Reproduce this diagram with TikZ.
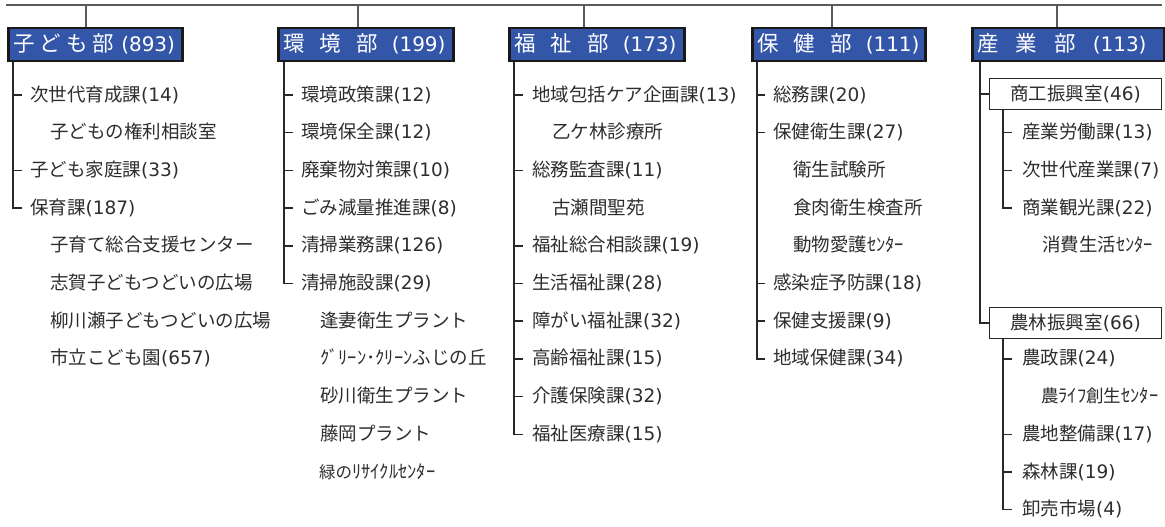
\documentclass[tikz,border=0pt]{standalone}
\usepackage{fontspec}
\setmainfont{Noto Sans CJK JP}
\newfontfamily\latf{DejaVu Sans}
\newcommand\pnum[1]{{\latf(#1)}}
\definecolor{hdrblue}{RGB}{52,86,168}
\definecolor{hdrline}{RGB}{25,25,25}
\definecolor{txt}{RGB}{45,45,45}
\definecolor{lnc}{RGB}{40,40,40}
\definecolor{topc}{RGB}{90,90,90}
\def\ry#1{95+37.7*#1}
\tikzset{
  item/.style={anchor=west, inner sep=0pt, font=\fontsize{18.5}{20}\selectfont, text=txt, text height=14.5pt, text depth=2.5pt},
  hdr/.style={draw=hdrline, line width=2.5pt, fill=hdrblue, text=white, anchor=north west, minimum height=33pt, inner xsep=5pt, inner ysep=0pt, font=\fontsize{21.5}{24}\selectfont, align=left, text height=17pt, text depth=4pt},
  conn/.style={draw=lnc, line width=1.5pt},
  topline/.style={draw=topc, line width=2pt},
  office/.style={draw=lnc, line width=1.3pt, fill=white, minimum width=172pt, minimum height=31pt, anchor=north west, inner sep=0pt, font=\fontsize{18.5}{20}\selectfont, text=txt},
}
\begin{document}
\begin{tikzpicture}[x=1pt,y=-1pt]
\useasboundingbox (0,0) rectangle (1165,527);
% headers
\node[hdr, minimum width=174pt, text width=164pt] (h1) at (7,27) {子\hspace{5pt}ど\hspace{5pt}も\hspace{5pt}部\hspace{7pt}{\fontsize{20}{24}\selectfont\pnum{893}}};
\node[hdr, minimum width=175pt, text width=165pt] (h2) at (277,27) {環\hspace{15pt}境\hspace{15pt}部\hspace{14pt}{\fontsize{20}{24}\selectfont\pnum{199}}};
\node[hdr, minimum width=175pt, text width=165pt] (h3) at (508,27) {福\hspace{15pt}祉\hspace{15pt}部\hspace{14pt}{\fontsize{20}{24}\selectfont\pnum{173}}};
\node[hdr, minimum width=173pt, text width=163pt] (h4) at (751,27) {保\hspace{15pt}健\hspace{15pt}部\hspace{14pt}{\fontsize{20}{24}\selectfont\pnum{111}}};
\node[hdr, minimum width=192pt, text width=182pt] (h5) at (971,27) {産\hspace{17pt}業\hspace{17pt}部\hspace{17pt}{\fontsize{20}{24}\selectfont\pnum{113}}};
% top line
\coordinate (tl) at (6,5.5);
\coordinate (tr) at (1162,5.5);
\draw[topline] (tl) -- (tr);
\coordinate (t1) at (86,5.5);
\coordinate (t2) at (358,5.5);
\coordinate (t3) at (584,5.5);
\coordinate (t4) at (832,5.5);
\coordinate (t5) at (1057,5.5);
\draw[topline] (t1) -- (t1 |- h1.north);
\draw[topline] (t2) -- (t2 |- h2.north);
\draw[topline] (t3) -- (t3 |- h3.north);
\draw[topline] (t4) -- (t4 |- h4.north);
\draw[topline] (t5) -- (t5 |- h5.north);
% column 1
\node[item] (c1a) at (30,{\ry{0}}) {次世代育成課\pnum{14}};
\node[item] (c1b) at (50,{\ry{1}}) {子どもの権利相談室};
\node[item] (c1c) at (30,{\ry{2}}) {子ども家庭課\pnum{33}};
\node[item] (c1d) at (30,{\ry{3}}) {保育課\pnum{187}};
\node[item] (c1e) at (50,{\ry{4}}) {子育て総合支援センター};
\node[item] (c1f) at (50,{\ry{5}}) {志賀子どもつどいの広場};
\node[item] (c1g) at (50,{\ry{6}}) {柳川瀬子どもつどいの広場};
\node[item] (c1h) at (50,{\ry{7}}) {市立こども園\pnum{657}};
\coordinate (k1) at (13,0);
\draw[conn] (k1 |- h1.south) |- ([xshift=-8pt]c1d.west);
\draw[conn] (k1 |- c1a.west) -- ([xshift=-8pt]c1a.west);
\draw[conn] (k1 |- c1c.west) -- ([xshift=-8pt]c1c.west);
% column 2
\node[item] (c2a) at (301,{\ry{0}}) {環境政策課\pnum{12}};
\node[item] (c2b) at (301,{\ry{1}}) {環境保全課\pnum{12}};
\node[item] (c2c) at (301,{\ry{2}}) {廃棄物対策課\pnum{10}};
\node[item] (c2d) at (301,{\ry{3}}) {ごみ減量推進課\pnum{8}};
\node[item] (c2e) at (301,{\ry{4}}) {清掃業務課\pnum{126}};
\node[item] (c2f) at (301,{\ry{5}}) {清掃施設課\pnum{29}};
\node[item] (c2g) at (320,{\ry{6}}) {逢妻衛生プラント};
\node[item] (c2h) at (320,{\ry{7}}) {ｸﾞﾘｰﾝ･ｸﾘｰﾝふじの丘};
\node[item] (c2i) at (320,{\ry{8}}) {砂川衛生プラント};
\node[item] (c2j) at (320,{\ry{9}}) {藤岡プラント};
\node[item, font=\fontsize{18.5}{20}\selectfont] (c2k) at (319,{\ry{10}}) {{\fontsize{16.5}{20}\selectfont 緑の}ﾘｻｲｸﾙｾﾝﾀｰ};
\coordinate (k2) at (284,0);
\draw[conn] (k2 |- h2.south) |- ([xshift=-8pt]c2f.west);
\foreach \n in {c2a,c2b,c2c,c2d,c2e}
  \draw[conn] (k2 |- \n.west) -- ([xshift=-8pt]\n.west);
% column 3
\node[item] (c3a) at (532,{\ry{0}}) {地域包括ケア企画課\pnum{13}};
\node[item] (c3b) at (552,{\ry{1}}) {乙ケ林診療所};
\node[item] (c3c) at (532,{\ry{2}}) {総務監査課\pnum{11}};
\node[item] (c3d) at (552,{\ry{3}}) {古瀬間聖苑};
\node[item] (c3e) at (532,{\ry{4}}) {福祉総合相談課\pnum{19}};
\node[item] (c3f) at (532,{\ry{5}}) {生活福祉課\pnum{28}};
\node[item] (c3g) at (532,{\ry{6}}) {障がい福祉課\pnum{32}};
\node[item] (c3h) at (532,{\ry{7}}) {高齢福祉課\pnum{15}};
\node[item] (c3i) at (532,{\ry{8}}) {介護保険課\pnum{32}};
\node[item] (c3j) at (532,{\ry{9}}) {福祉医療課\pnum{15}};
\coordinate (k3) at (514,0);
\draw[conn] (k3 |- h3.south) |- ([xshift=-9pt]c3j.west);
\foreach \n in {c3a,c3c,c3e,c3f,c3g,c3h,c3i}
  \draw[conn] (k3 |- \n.west) -- ([xshift=-9pt]\n.west);
% column 4
\node[item] (c4a) at (773,{\ry{0}}) {総務課\pnum{20}};
\node[item] (c4b) at (773,{\ry{1}}) {保健衛生課\pnum{27}};
\node[item] (c4c) at (793,{\ry{2}}) {衛生試験所};
\node[item] (c4d) at (793,{\ry{3}}) {食肉衛生検査所};
\node[item] (c4e) at (793,{\ry{4}}) {動物愛護ｾﾝﾀｰ};
\node[item] (c4f) at (773,{\ry{5}}) {感染症予防課\pnum{18}};
\node[item] (c4g) at (773,{\ry{6}}) {保健支援課\pnum{9}};
\node[item] (c4h) at (773,{\ry{7}}) {地域保健課\pnum{34}};
\coordinate (k4) at (757,0);
\draw[conn] (k4 |- h4.south) |- ([xshift=-8pt]c4h.west);
\foreach \n in {c4a,c4b,c4f,c4g}
  \draw[conn] (k4 |- \n.west) -- ([xshift=-8pt]\n.west);
% column 5
\node[office] (o1) at (989,78) {商工振興室\pnum{46}};
\node[office] (o2) at (989,307) {農林振興室\pnum{66}};
\node[item] (c5a) at (1022,{\ry{1}}) {産業労働課\pnum{13}};
\node[item] (c5b) at (1022,{\ry{2}}) {次世代産業課\pnum{7}};
\node[item] (c5c) at (1022,{\ry{3}}) {商業観光課\pnum{22}};
\node[item] (c5d) at (1042,{\ry{4}}) {消費生活ｾﾝﾀｰ};
\node[item] (c5e) at (1022,{\ry{7}}) {農政課\pnum{24}};
\node[item] (c5f) at (1041,{\ry{8}}) {{\fontsize{17.5}{20}\selectfont 農}ﾗｲﾌ{\fontsize{17.5}{20}\selectfont 創生}ｾﾝﾀｰ};
\node[item] (c5g) at (1022,{\ry{9}}) {農地整備課\pnum{17}};
\node[item] (c5h) at (1022,{\ry{10}}) {森林課\pnum{19}};
\node[item] (c5i) at (1022,{\ry{11}}) {卸売市場\pnum{4}};
\coordinate (k5) at (980,0);
\draw[conn] (k5 |- h5.south) |- (o2.west);
\draw[conn] (k5 |- o1.west) -- (o1.west);
\coordinate (s5) at (1003,0);
\draw[conn] (s5 |- o1.south) |- ([xshift=-10pt]c5c.west);
\foreach \n in {c5a,c5b}
  \draw[conn] (s5 |- \n.west) -- ([xshift=-10pt]\n.west);
\draw[conn] (s5 |- o2.south) |- ([xshift=-10pt]c5i.west);
\foreach \n in {c5e,c5g,c5h}
  \draw[conn] (s5 |- \n.west) -- ([xshift=-10pt]\n.west);
\end{tikzpicture}
\end{document}
